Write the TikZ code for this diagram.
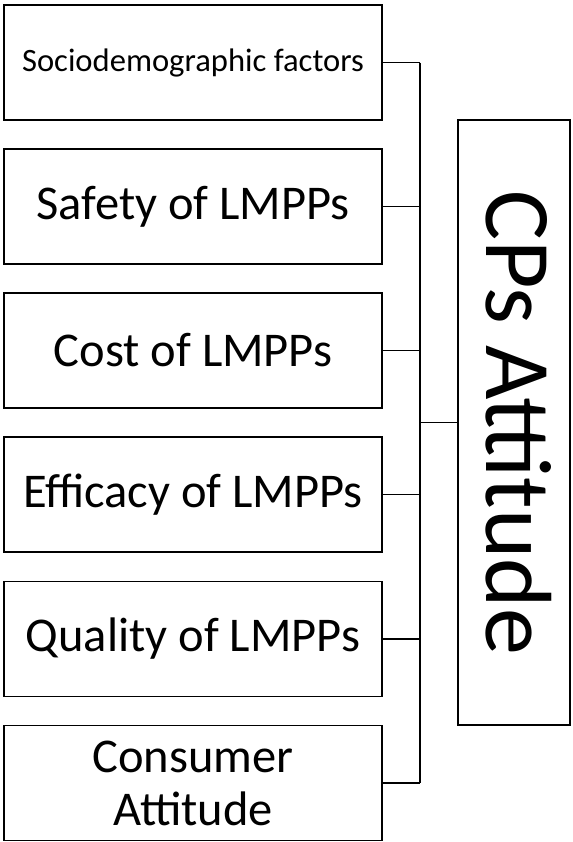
\documentclass[tikz,border=0pt]{standalone}
\usepackage{fontspec}
\setmainfont{Carlito}
\begin{document}
\begin{tikzpicture}[x=1bp,y=-1bp,
  factor/.style={draw, line width=1.6bp, rectangle, minimum width=378bp, minimum height=115bp,
    inner sep=0pt, align=center, font=\fontsize{48.5bp}{53bp}\selectfont},
  outcome/.style={draw, line width=1.6bp, rectangle, minimum width=112bp, minimum height=605bp,
    inner sep=0pt},
  link/.style={line width=1.6bp}]
\useasboundingbox (0,0) rectangle (573,842);

% factor boxes on the left
\node[factor, font=\fontsize{32.6bp}{36bp}\selectfont] (b1) at (193,62.5) {Sociodemographic factors};
\node[factor] (b2) at (193,206.5) {Safety of LMPPs};
\node[factor] (b3) at (193,350.5) {Cost of LMPPs};
\node[factor] (b4) at (193,494.5) {Efficacy of LMPPs};
\node[factor] (b5) at (193,639) {Quality of LMPPs};
\node[factor] (b6) at (193,783) {Consumer\\Attitude};

% outcome box on the right, label set vertically
\node[outcome] (cps) at (514,422.5) {};
\node[rotate=-90, anchor=base, font=\fontsize{94bp}{98bp}\selectfont, inner sep=0pt] (cpslabel)
  at (486,422.5) {CPs Attitude};

% collecting line
\coordinate (sp) at (420,0);
\foreach \b in {b1,b2,b3,b4,b5,b6}
  \draw[link] (\b.east) -- (\b.east -| sp);
\draw[link] (b1.east -| sp) -- (b6.east -| sp);
\draw[link] (cps.west -| sp) -- (cps.west);
\end{tikzpicture}
\end{document}
